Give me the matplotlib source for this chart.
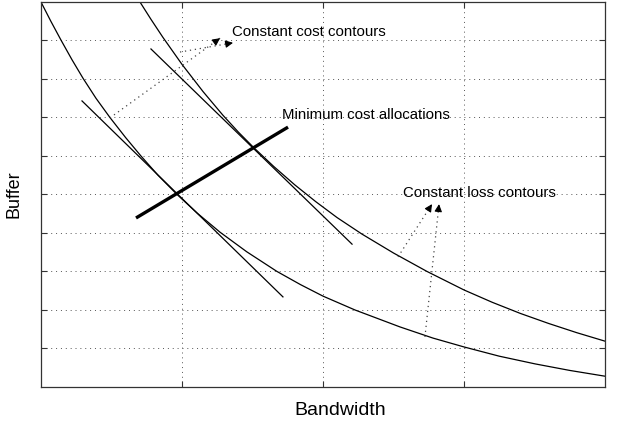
import matplotlib
matplotlib.use("Agg")
import matplotlib.pyplot as plt

plt.rcParams['font.family'] = ['Liberation Sans', 'DejaVu Sans']

# constant loss contours (bandwidth, buffer)
loss_lo_x = [0.0, 0.07, 0.142, 0.22, 0.298, 0.39, 0.489, 0.60, 0.709, 0.83, 0.965, 1.11, 1.27,
             1.46, 1.674, 1.84, 2.0, 2.227, 2.546, 2.78, 3.0, 3.25, 3.504, 3.75, 4.0]
loss_lo_y = [10.0, 9.50, 9.01, 8.50, 8.02, 7.50, 7.00, 6.48, 6.00, 5.50, 5.00, 4.51, 4.02,
             3.51, 3.00, 2.66, 2.36, 2.00, 1.56, 1.27, 1.04, 0.80, 0.60, 0.43, 0.28]

loss_hi_x = [0.702, 0.78, 0.865, 1.0, 1.15, 1.29, 1.40, 1.511, 1.65, 1.80, 1.95, 2.10, 2.277,
             2.5, 2.738, 3.0, 3.2, 3.4, 3.6, 3.8, 4.0]
loss_hi_y = [10.0, 9.55, 9.08, 8.38, 7.67, 7.06, 6.62, 6.21, 5.73, 5.25, 4.81, 4.40, 3.97,
             3.48, 3.00, 2.52, 2.20, 1.91, 1.65, 1.41, 1.19]

# constant cost contours (straight lines)
cost_lo_x = [0.291, 1.716]
cost_lo_y = [7.43, 2.34]
cost_hi_x = [0.780, 2.206]
cost_hi_y = [8.78, 3.71]

# minimum cost allocations
mincost_x = [0.674, 1.752]
mincost_y = [4.39, 6.75]

fig = plt.figure(figsize=(6.18, 4.24), dpi=100)
ax = fig.add_axes([0.0663, 0.0873, 0.9127, 0.908])

ax.plot(loss_lo_x, loss_lo_y, color='black', lw=0.9)
ax.plot(loss_hi_x, loss_hi_y, color='black', lw=0.9)
ax.plot(cost_lo_x, cost_lo_y, color='black', lw=0.9)
ax.plot(cost_hi_x, cost_hi_y, color='black', lw=0.9)
ax.plot(mincost_x, mincost_y, color='black', lw=2.4, solid_capstyle='butt')


def dotted_arrow(x0, y0, x1, y1):
    ax.plot([x0, x1], [y0, y1], color='#444444', lw=0.9, ls=(0, (1, 3)))
    ax.annotate('', xy=(x1, y1), xytext=(x0 + 0.96 * (x1 - x0), y0 + 0.96 * (y1 - y0)),
                arrowprops=dict(arrowstyle='-|>', color='black', lw=0.8,
                                mutation_scale=11, shrinkA=0, shrinkB=0))


dotted_arrow(0.489, 6.99, 1.27, 9.06)
dotted_arrow(0.986, 8.70, 1.362, 8.94)
dotted_arrow(2.532, 3.38, 2.773, 4.75)
dotted_arrow(2.723, 1.30, 2.823, 4.75)

ax.text(1.355, 9.22, 'Constant cost contours', fontsize=10.8, va='center', ha='left')
ax.text(1.709, 7.06, 'Minimum cost allocations', fontsize=10.8, va='center', ha='left')
ax.text(2.567, 5.04, 'Constant loss contours', fontsize=10.8, va='center', ha='left')

ax.set_xlim(0, 4)
ax.set_ylim(0, 10)
ax.set_xticks([1, 2, 3])
ax.set_yticks(range(1, 10))
ax.set_xticklabels([])
ax.set_yticklabels([])
ax.tick_params(direction='in', length=4, width=0.8, top=True, right=True, colors='#333333')
ax.grid(True, color='#555555', ls=(0, (1, 4)), lw=0.7)
for s in ax.spines.values():
    s.set_color('#333333')
    s.set_linewidth(0.9)

ax.set_xlabel('Bandwidth', fontsize=14)
ax.xaxis.set_label_coords(0.53, -0.04)
ax.set_ylabel('Buffer', fontsize=13, labelpad=10)

fig.savefig('out.png', dpi=100)
